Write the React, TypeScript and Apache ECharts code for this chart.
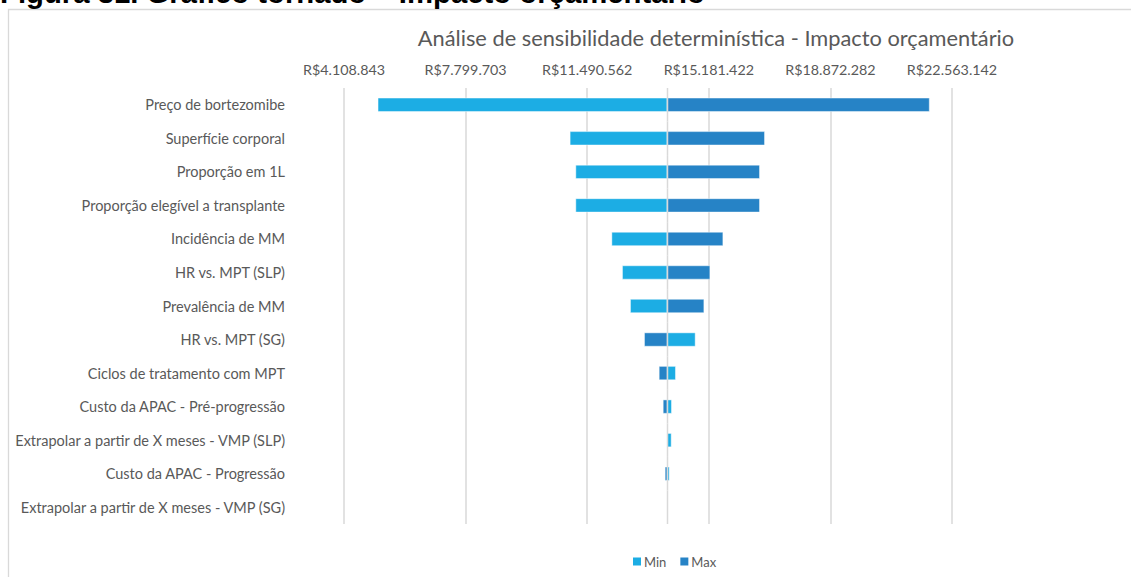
import React, { useEffect, useRef } from "react";
import * as echarts from "echarts";

const categories = [
  "Preço de bortezomibe",
  "Superfície corporal",
  "Proporção em 1L",
  "Proporção elegível a transplante",
  "Incidência de MM",
  "HR vs. MPT (SLP)",
  "Prevalência de MM",
  "HR vs. MPT (SG)",
  "Ciclos de tratamento com MPT",
  "Custo da APAC - Pré-progressão",
  "Extrapolar a partir de X meses - VMP (SLP)",
  "Custo da APAC - Progressão",
  "Extrapolar a partir de X meses - VMP (SG)",
];

const minValues = [
  5142000, 10972000, 11145000, 11145000, 12239000, 12561000, 12804000,
  14768000, 14170000, 14049000, 14040000, 13979000, 13918000,
];
const maxValues = [
  21874000, 16873000, 16721000, 16721000, 15609000, 15214000, 15032000,
  13229000, 13675000, 13797000, 13918000, 13857000, 13918000,
];
const BASE_VALUE = 13918000;

const AXIS_MIN = 4108842.7;
const TICK_STEP = 3690859.86;
const TICK_COUNT = 5;

const COLOR_MIN = "#1CADE4";
const COLOR_MAX = "#2683C6";
const TEXT = "#595959";
const FONT = "Lato";

function fmt(v: number) {
  return "R$" + Math.round(v).toString().replace(/\B(?=(\d{3})+(?!\d))/g, ".");
}

function makeRender(drawBase: boolean) {
  return (params: any, api: any) => {
    const idx = api.value(1);
    const val = api.value(0);
    const p0 = api.coord([BASE_VALUE, idx]);
    const p1 = api.coord([val, idx]);
    const band = api.size([0, 1])[1];
    const h = band * 0.4;
    const x = Math.min(p0[0], p1[0]);
    const w = Math.abs(p1[0] - p0[0]);
    const children: any[] = [];
    if (w > 0.01) {
      children.push({
        type: "rect",
        shape: { x, y: p0[1] - h / 2, width: w, height: h },
        style: {
          fill: api.visual("color"),
          stroke: "rgba(255,255,255,0.45)",
          lineWidth: 1,
        },
      });
    }
    if (drawBase) {
      children.push({
        type: "line",
        shape: {
          x1: Math.round(p0[0]) + 0.5,
          y1: p0[1] - band / 2,
          x2: Math.round(p0[0]) + 0.5,
          y2: p0[1] + band / 2,
        },
        style: { stroke: "#d9d9d9", lineWidth: 1.5 },
      });
    }
    return { type: "group", children };
  };
}

export default function App() {
  const ref = useRef<HTMLDivElement>(null);
  useEffect(() => {
    if (!ref.current) return;
    const chart = echarts.init(ref.current, undefined, { renderer: "svg" });
    chart.setOption({
      animation: false,
      backgroundColor: "#ffffff",
      graphic: [
        {
          type: "text",
          left: 0,
          top: -22,
          style: {
            text: "Figura 31. Gráfico tornado – Impacto orçamentário",
            font: "bold 29.3px 'Liberation Sans', Arial, sans-serif",
            fill: "#000000",
          },
          z: 10,
        },
        {
          type: "rect",
          shape: { x: 8.5, y: 9.5, width: 1400, height: 700 },
          style: { fill: "none", stroke: "#d9d9d9", lineWidth: 1.3 },
          z: 0,
        },
      ],
      title: {
        text: "Análise de sensibilidade determinística - Impacto orçamentário",
        left: 711,
        top: 21,
        textAlign: "center",
        textStyle: {
          fontFamily: FONT,
          fontSize: 21.8,
          fontWeight: "normal",
          color: TEXT,
        },
      },
      legend: {
        left: 628,
        top: 550,
        itemWidth: 8,
        itemHeight: 8,
        itemGap: 14,
        icon: "rect",
        textStyle: { fontFamily: FONT, fontSize: 13, color: TEXT, padding: [0, 0, 0, -2] },
        data: [
          { name: "Min", itemStyle: { color: COLOR_MIN } },
          { name: "Max", itemStyle: { color: COLOR_MAX } },
        ],
      },
      grid: { left: 344, right: 179, top: 88, bottom: 53, containLabel: false },
      xAxis: {
        type: "value",
        position: "top",
        min: AXIS_MIN,
        max: AXIS_MIN + TICK_STEP * TICK_COUNT,
        interval: TICK_STEP,
        axisLine: { show: false },
        axisTick: { show: false },
        splitLine: { show: true, lineStyle: { color: "#d9d9d9", width: 1.5 } },
        axisLabel: {
          formatter: fmt,
          fontFamily: FONT,
          fontSize: 14.3,
          color: TEXT,
          margin: 12,
          showMinLabel: true,
          showMaxLabel: true,
        },
      },
      yAxis: {
        type: "category",
        inverse: true,
        data: categories,
        axisLine: { show: false },
        axisTick: { show: false },
        splitLine: { show: false },
        axisLabel: {
          fontFamily: FONT,
          fontSize: 14.5,
          color: TEXT,
          margin: 59,
        },
      },
      series: [
        {
          name: "Min",
          type: "custom",
          itemStyle: { color: COLOR_MIN },
          renderItem: makeRender(false),
          encode: { x: 0, y: 1 },
          data: minValues.map((v, i) => [v, i]),
          z: 2,
        },
        {
          name: "Max",
          type: "custom",
          itemStyle: { color: COLOR_MAX },
          renderItem: makeRender(true),
          encode: { x: 0, y: 1 },
          data: maxValues.map((v, i) => [v, i]),
          z: 3,
        },
      ],
    });
    return () => chart.dispose();
  }, []);
  return (
    <div
      ref={ref}
      style={{ position: "fixed", left: 0, top: 0, width: 1131, height: 577 }}
    />
  );
}
